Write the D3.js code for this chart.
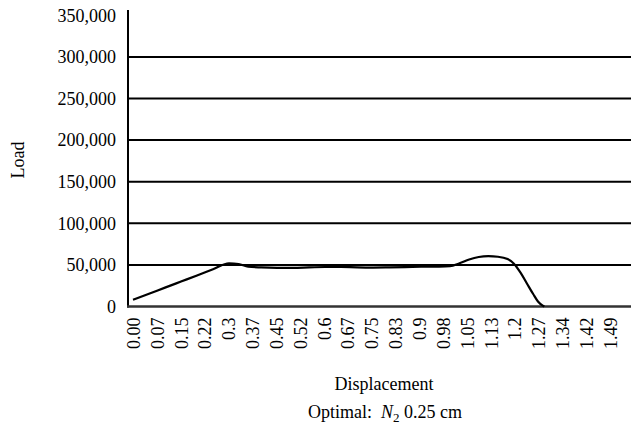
<!DOCTYPE html>
<html>
<head>
<meta charset="utf-8">
<script src="https://cdn.jsdelivr.net/npm/d3@7.9.0/dist/d3.min.js"></script>
<style>
  body { margin: 0; background: #fff; }
  svg { display: block; font-family: "Liberation Serif", "Times New Roman", serif; }
</style>
</head>
<body>
<svg width="631" height="436"></svg>
<script>
// tick labels on the displacement axis (evenly spaced)
const xTickLabels = ['0.00', '0.07', '0.15', '0.22', '0.3', '0.37', '0.45', '0.52', '0.6', '0.67',
  '0.75', '0.83', '0.9', '0.98', '1.05', '1.13', '1.2', '1.27', '1.34', '1.42', '1.49'];
const yTicks = [0, 50000, 100000, 150000, 200000, 250000, 300000, 350000];

// load vs displacement
const displacement = [0, 0.05, 0.10, 0.15, 0.20, 0.25, 0.30, 0.33, 0.36, 0.40, 0.45, 0.50, 0.55,
  0.60, 0.65, 0.70, 0.75, 0.80, 0.85, 0.90, 0.95, 0.99, 1.02, 1.05, 1.08, 1.11, 1.14, 1.17,
  1.19, 1.21, 1.23, 1.25, 1.265, 1.28, 1.285];
const load = [8000, 15300, 22700, 30000, 37300, 44700, 52000, 51000, 48000, 47000, 46500, 46500, 47000,
  47500, 47500, 47000, 46800, 47000, 47300, 47800, 48000, 48500, 52000, 56500, 59500, 60500, 59800, 57000,
  51500, 41000, 28000, 15000, 6000, 1000, 0];

const svg = d3.select('svg');
const plotLeft = 128, plotRight = 631, plotTop = 10, plotBottom = 306.5;
const fontSize = 18;

const x = d3.scaleLinear().domain([0, 1.49]).range([133, 610]);
const y = d3.scaleLinear().domain([0, 350000]).range([plotBottom, plotBottom - 7 * 41.6]);

// gridlines (none at the top value)
svg.append('g')
  .selectAll('line')
  .data(yTicks.filter(d => d > 0 && d < 350000))
  .join('line')
  .attr('x1', plotLeft).attr('x2', plotRight)
  .attr('y1', d => y(d)).attr('y2', d => y(d))
  .attr('stroke', '#000')
  .attr('stroke-width', 2);

// y axis labels
const yAxis = d3.axisLeft(y).tickValues(yTicks).tickSize(0).tickPadding(12)
  .tickFormat(d3.format(','));
svg.append('g')
  .attr('transform', `translate(${plotLeft},0)`)
  .call(yAxis)
  .call(g => g.select('.domain').remove())
  .call(g => g.selectAll('text').attr('font-size', fontSize).attr('fill', '#000')
    .attr('font-family', '"Liberation Serif", serif'));

// x axis labels, rotated
const tickPos = xTickLabels.map((_, i) => i * 1.49 / (xTickLabels.length - 1));
const xAxis = d3.axisBottom(x).tickValues(tickPos).tickSize(0)
  .tickFormat((d, i) => xTickLabels[i]);
svg.append('g')
  .attr('transform', `translate(0,${plotBottom})`)
  .call(xAxis)
  .call(g => g.select('.domain').remove())
  .call(g => g.selectAll('text')
    .attr('font-size', fontSize).attr('fill', '#000')
    .attr('font-family', '"Liberation Serif", serif')
    .attr('text-anchor', 'end')
    .attr('dy', '0.35em')
    .attr('transform', 'rotate(-90)')
    .attr('x', -11).attr('y', 0));

// axis lines
svg.append('line')
  .attr('x1', plotLeft).attr('x2', plotLeft).attr('y1', plotTop).attr('y2', plotBottom + 1)
  .attr('stroke', '#000').attr('stroke-width', 2);
svg.append('line')
  .attr('x1', plotLeft - 1).attr('x2', plotRight).attr('y1', plotBottom).attr('y2', plotBottom)
  .attr('stroke', '#333').attr('stroke-width', 2.5);

// the load curve
const points = displacement.map((d, i) => [d, load[i]]);
const line = d3.line()
  .x(d => x(d[0]))
  .y(d => y(d[1]))
  .curve(d3.curveMonotoneX);
svg.append('path')
  .datum(points)
  .attr('d', line)
  .attr('fill', 'none')
  .attr('stroke', '#000')
  .attr('stroke-width', 2.2);

// axis titles
svg.append('text')
  .attr('transform', 'translate(24,160) rotate(-90)')
  .attr('text-anchor', 'middle')
  .attr('font-size', fontSize)
  .text('Load');

svg.append('text')
  .attr('x', 384).attr('y', 390)
  .attr('text-anchor', 'middle')
  .attr('font-size', fontSize)
  .text('Displacement');

const note = svg.append('text')
  .attr('x', 385).attr('y', 418)
  .attr('text-anchor', 'middle')
  .attr('font-size', fontSize);
note.append('tspan').attr('xml:space', 'preserve').text('Optimal:\u00a0 ');
note.append('tspan').attr('font-style', 'italic').text('N');
note.append('tspan').attr('font-size', 13).attr('dy', 4).text('2');
note.append('tspan').attr('dy', -4).text(' 0.25 cm');
</script>
</body>
</html>
